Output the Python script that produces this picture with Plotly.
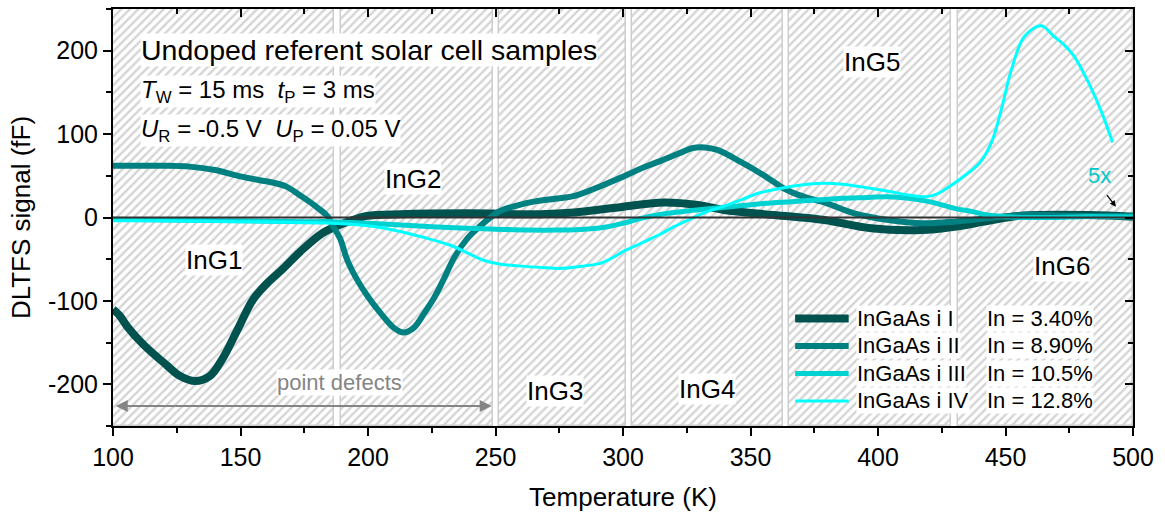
import plotly.graph_objects as go

# ---- DLTFS spectra of the four InGaAs samples (T in K, signal in fF) ----
t_i = [100, 102.7, 105.4, 111.8, 121, 126.3, 132.2, 138, 143.2, 148.6, 155, 160.4, 166.8,
       173.4, 182, 188.4, 196, 199.6, 212.7, 238.9, 267.7, 280.7, 300.3, 316, 329.4, 339.6,
       359, 378.9, 397.3, 417, 430, 443.3, 456, 482.5, 500]
s_i = [-110, -118, -130, -152, -177, -190, -196, -190, -168, -136, -98, -79, -61,
       -41, -19, -9.5, -1, 2, 4, 5, 4, 6, 13, 18, 15, 9,
       3, -3, -13, -15, -11, -4, 2, 3, 1]

t_ii = [100, 110, 120, 130, 140, 149, 157, 162.5, 168, 172.7, 177, 180.5, 184, 186, 189, 192,
        196, 200, 205, 210, 214, 218, 222, 226, 230, 234, 239, 243, 248, 252, 258, 265, 275,
        281, 290, 300, 308, 314, 322, 327, 332, 337, 346, 355, 363, 368, 373, 380, 390.7,
        404, 417, 430, 443, 456, 475, 500]
s_ii = [62, 62, 62, 61, 57, 50, 45, 42, 37, 28, 19, 11, 2, -9, -25, -52,
        -76, -95, -115, -132, -138, -132, -115, -96, -72, -47, -25, -13, 0, 8, 14, 19, 23,
        26, 36, 49, 60, 67, 77, 83, 84, 81, 67, 51, 35, 28, 23, 17, 5,
        -3, -7, -5, -1, 3, 2, 2]

t_iii = [100, 120, 150, 175, 186, 200, 213, 225, 239, 250, 262, 275, 285, 294, 300, 307, 315,
         326, 336, 346, 356, 366, 376, 386, 396, 404, 412, 420, 430, 437, 443, 450, 460, 470,
         480, 490, 500]
s_iii = [-2, -3, -4, -5, -5, -7, -9, -11, -13, -14, -15, -15, -14, -11, -7, -1, 4,
         8, 11, 14, 17, 19, 21, 23, 24, 25, 23, 19, 11, 7, 3, 1, 0, 0,
         1, 1, 1]

t_iv = [100, 120, 150, 175, 186, 200, 213, 222, 232, 240, 245, 252, 259, 268, 276, 285, 291,
        296, 300, 307, 314, 320, 327, 333, 340, 347, 353, 362, 370, 378, 386, 395, 405, 412,
        419, 423, 427, 433, 440, 444.5, 448.4, 452.3, 457.4, 464, 469, 473, 477, 482.5,
        487.7, 492]
s_iv = [-4, -4, -5, -6, -7, -10, -17, -24, -33, -44, -51, -56, -58, -60, -61, -58, -55,
        -48, -41, -31, -21, -11, -1, 7, 14, 22, 29, 35, 39, 41, 40, 36, 31, 27,
        25, 28, 35, 48, 66, 90, 130, 177, 217, 230, 217, 207, 193, 162,
        126, 90]

series_names = ["InGaAs i I", "InGaAs i II", "InGaAs i III", "InGaAs i IV"]
indium = ["In = 3.40%", "In = 8.90%", "In = 10.5%", "In = 12.8%"]
colors = ["#00524F", "#008080", "#00D2D2", "#00FFFF"]
widths = [8, 6, 5, 3]

# ---- temperature windows of the InG1..InG6 groups ----
region_lo = [100, 189.5, 251.5, 303.6, 365.1, 431.4]
region_hi = [186.5, 248.9, 301.1, 362.6, 428.8, 500]
region_names = ["InG1", "InG2", "InG3", "InG4", "InG5", "InG6"]
region_label_t = [139.5, 217.5, 273.5, 333, 397.5, 472]
region_label_s = [-51, 46, -208, -206, 187, -58]

FONT = "Liberation Sans, Arial, sans-serif"
X_RANGE = [100, 500]
Y_RANGE = [-250, 250]

fig = go.Figure()

# hatched background windows
fig.add_trace(go.Bar(
    x=[(a + b) / 2 for a, b in zip(region_lo, region_hi)],
    width=[b - a for a, b in zip(region_lo, region_hi)],
    y=[Y_RANGE[1] - Y_RANGE[0]] * len(region_lo),
    base=Y_RANGE[0],
    marker=dict(color="white",
                line=dict(color="#cdcdcd", width=1.5),
                pattern=dict(shape="/", fgcolor="#aaaaaa", bgcolor="white",
                             size=6, solidity=0.4)),
    hoverinfo="skip", showlegend=False,
))

# spectra
for t, s, c, w, n in zip([t_i, t_ii, t_iii, t_iv], [s_i, s_ii, s_iii, s_iv],
                         colors, widths, series_names):
    fig.add_trace(go.Scatter(x=t, y=s, mode="lines", name=n,
                             line=dict(color=c, width=w, shape="spline", smoothing=1.0),
                             showlegend=False))

# zero baseline
fig.add_trace(go.Scatter(x=X_RANGE, y=[0, 0], mode="lines",
                         line=dict(color="#333333", width=2),
                         hoverinfo="skip", showlegend=False))

# carrier for the mirrored top/right axes
fig.add_trace(go.Scatter(x=[], y=[], xaxis="x2", yaxis="y2", showlegend=False))

ann = []
txt = dict(family=FONT, color="black")

ann.append(dict(x=110.6, y=201, text="Undoped referent solar cell samples",
                xanchor="left", yanchor="middle", showarrow=False,
                font=dict(size=28.5, **txt), bgcolor="white", borderpad=0))
ann.append(dict(x=110.6, y=151,
                text="<i>T</i><sub>W</sub> = 15 ms  <i>t</i><sub>P</sub> = 3 ms",
                xanchor="left", yanchor="middle", showarrow=False,
                font=dict(size=24, **txt), bgcolor="white", borderpad=0))
ann.append(dict(x=110.6, y=104,
                text="<i>U</i><sub>R</sub> = -0.5 V  <i>U</i><sub>P</sub> = 0.05 V",
                xanchor="left", yanchor="middle", showarrow=False,
                font=dict(size=24, **txt), bgcolor="white", borderpad=0))

for name, tx, sy in zip(region_names, region_label_t, region_label_s):
    ann.append(dict(x=tx, y=sy, text=name, showarrow=False,
                    font=dict(size=26, **txt), bgcolor="white", borderpad=0))

# point-defect span
ann.append(dict(x=248.5, y=-226, ax=100.5, ay=-226, axref="x", ayref="y",
                text="", showarrow=True, arrowhead=2, startarrowhead=2,
                arrowside="end+start", arrowsize=1.2, arrowwidth=2,
                arrowcolor="#858585"))
ann.append(dict(x=189, y=-198, text="point defects", showarrow=False,
                font=dict(size=22, family=FONT, color="#858585"),
                bgcolor="white", borderpad=0))

# magnification note for sample IV
ann.append(dict(x=487, y=50, text="5x", showarrow=False,
                font=dict(size=22, family=FONT, color="#00C8C8")))
ann.append(dict(x=493.3, y=13, ax=489.3, ay=28.5, axref="x", ayref="y",
                text="", showarrow=True, arrowhead=2, arrowsize=1,
                arrowwidth=1.2, arrowcolor="black"))

# key
shapes = []
key_y = [-121, -154, -187, -220]
for c, w, n, ind, ky in zip(colors, widths, series_names, indium, key_y):
    shapes.append(dict(type="line", x0=367.5, x1=388.5, y0=ky, y1=ky,
                       xref="x", yref="y", line=dict(color=c, width=w), layer="above"))
    ann.append(dict(x=391.2, y=ky, text=n, xanchor="left", yanchor="middle",
                    showarrow=False, font=dict(size=22, **txt),
                    bgcolor="white", borderpad=0))
    ann.append(dict(x=442.4, y=ky, text=ind, xanchor="left", yanchor="middle",
                    showarrow=False, font=dict(size=22, **txt),
                    bgcolor="white", borderpad=0))

axis_common = dict(showgrid=False, zeroline=False, linecolor="black", linewidth=2,
                   tickcolor="black", tickwidth=2)

fig.update_layout(
    width=1165, height=516,
    margin=dict(l=113, r=32, t=9, b=87),
    paper_bgcolor="white", plot_bgcolor="white",
    font=dict(family=FONT, color="black"),
    bargap=0,
    shapes=shapes,
    annotations=ann,
    xaxis=dict(range=X_RANGE, tickvals=[100, 150, 200, 250, 300, 350, 400, 450, 500],
               ticks="outside", ticklen=8,
               minor=dict(dtick=25, tick0=100, ticks="outside", ticklen=5,
                          tickcolor="black", tickwidth=2),
               tickfont=dict(size=25), title=dict(text="Temperature (K)",
                                                  font=dict(size=26), standoff=18),
               **axis_common),
    yaxis=dict(range=Y_RANGE, tickvals=[-200, -100, 0, 100, 200],
               ticktext=["-200", "-100", "0", "100", "200"],
               ticks="outside", ticklen=8,
               minor=dict(dtick=50, tick0=0, ticks="outside", ticklen=5,
                          tickcolor="black", tickwidth=2),
               tickfont=dict(size=25), title=dict(text="DLTFS signal (fF)",
                                                  font=dict(size=26), standoff=10),
               **axis_common),
    xaxis2=dict(range=X_RANGE, overlaying="x", side="top", anchor="y2",
                tickvals=[100, 150, 200, 250, 300, 350, 400, 450, 500],
                ticks="inside", ticklen=8, showticklabels=False,
                minor=dict(dtick=25, tick0=100, ticks="inside", ticklen=5,
                           tickcolor="black", tickwidth=2),
                **axis_common),
    yaxis2=dict(range=Y_RANGE, overlaying="y", side="right", anchor="x2",
                tickvals=[-200, -100, 0, 100, 200],
                ticks="inside", ticklen=8, showticklabels=False,
                minor=dict(dtick=50, tick0=0, ticks="inside", ticklen=5,
                           tickcolor="black", tickwidth=2),
                **axis_common),
)

fig.write_html("out.html")
